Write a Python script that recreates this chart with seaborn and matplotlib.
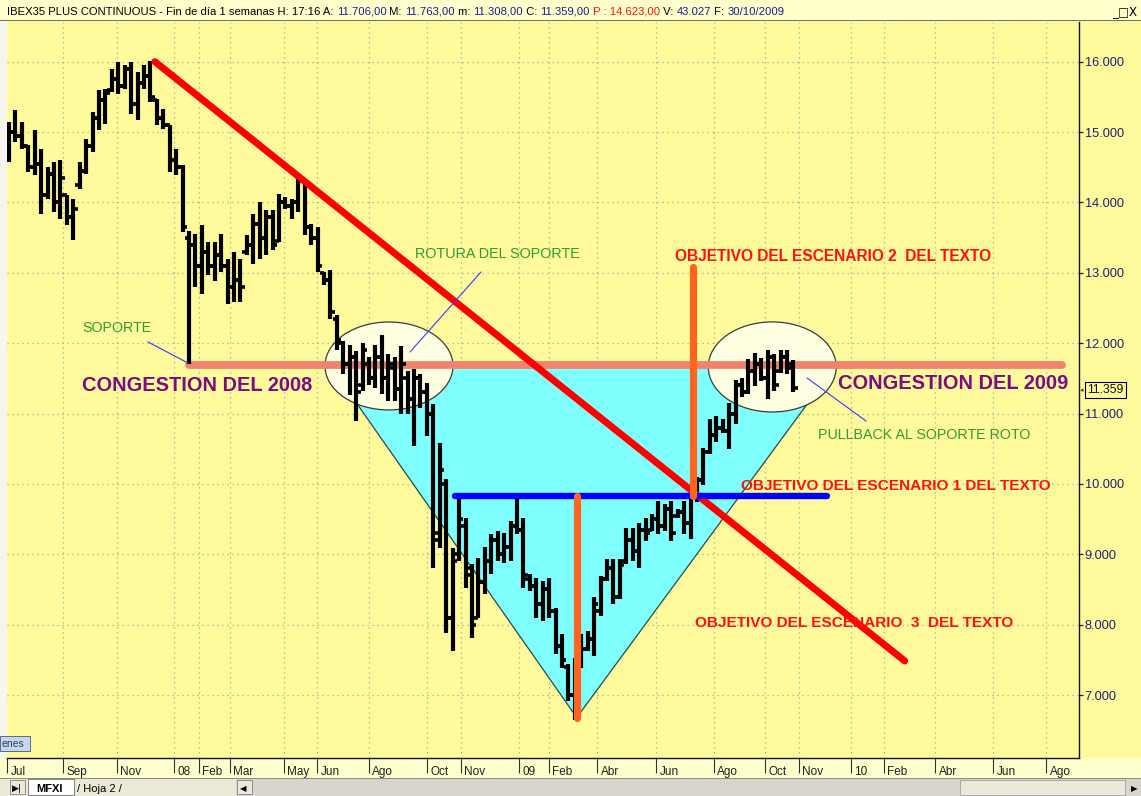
import numpy as np
import pandas as pd
import matplotlib
matplotlib.use("Agg")
import matplotlib.pyplot as plt
import matplotlib.transforms as mtransforms
from matplotlib.patches import Ellipse, Rectangle
import seaborn as sns

# ---------------- data (weekly OHLC, IBEX35 Jul-2007 .. Oct-2009) ----------------
highs = [
    15150, 15318, 15150, 14820, 15034, 14765, 14510, 14580, 14608, 14111,
    14054, 14580, 14907, 15290, 15602, 15617, 15900, 16000, 15957, 16000,
    15858, 15957, 16014, 15475, 15333, 15105, 14765, 14537, 13600, 13558,
    13685, 13444, 13444, 13558, 13203, 13302, 13189, 13543, 13842, 14012,
    13898, 13898, 14125, 14083, 14054, 14367, 14324, 13700, 13657, 13018,
    13046, 12400, 12024, 11980, 11882, 11996, 11800, 11980, 12123, 11840,
    11800, 11953, 11600, 11626, 11555, 11430, 11130, 10576, 10064, 9085,
    9850, 9510, 8857, 8943, 9100, 9284, 9326, 9300, 9468, 9800,
    9510, 8715, 8659, 8616, 8660, 8233, 7864, 7437, 7523, 7864,
    7906, 8400, 8690, 8930, 8930, 8940, 9370, 9369, 9450, 9510,
    9568, 9752, 9710, 9752, 9650, 9752, 9851, 10100, 10505, 10917,
    10960, 10917, 11145, 11480, 11500, 11768, 11854, 11783, 11910, 11840,
    11910, 11910, 11763]
lows = [
    14580, 14864, 14765, 14438, 14395, 13842, 14054, 13870, 13770, 13685,
    13472, 14197, 14410, 14722, 15034, 15120, 15574, 15546, 15617, 15262,
    15176, 15617, 15432, 15105, 15048, 14438, 14395, 13586, 11700, 12805,
    12692, 12975, 12890, 13018, 12550, 12592, 12592, 13259, 13132, 13203,
    13259, 13330, 13444, 13912, 13770, 13870, 13543, 13400, 13018, 12833,
    12350, 11900, 11555, 11270, 10888, 11314, 11400, 11356, 11271, 11172,
    11172, 10987, 10990, 10533, 11073, 10675, 8800, 9085, 7878, 7620,
    8900, 8517, 7807, 8091, 8430, 8715, 8900, 8870, 8900, 9284,
    8517, 8475, 8091, 8048, 8090, 7580, 7380, 6912, 6650, 7380,
    7620, 7550, 8120, 8620, 8290, 8360, 8857, 8900, 8800, 9184,
    9326, 9284, 9326, 9184, 9510, 9284, 9213, 9750, 9990, 10420,
    10600, 10718, 10491, 10846, 11240, 11271, 11385, 11456, 11200, 11314,
    11570, 11555, 11308]
opens = [
    14650, 15000, 14950, 14800, 14500, 14550, 14100, 14400, 14000, 14100,
    13800, 14250, 14450, 14800, 15200, 15450, 15600, 15750, 15650, 15900,
    15400, 15700, 15800, 15450, 15200, 15100, 14600, 14500, 13500, 13400,
    13100, 13300, 13100, 13250, 13100, 12800, 12900, 13300, 13400, 13700,
    13500, 13800, 13450, 14000, 13950, 14000, 14300, 13650, 13500, 13000,
    12900, 12350, 12000, 11700, 11800, 11400, 11700, 11500, 11800, 11500,
    11650, 11350, 11500, 11200, 11500, 11300, 11000, 9300, 10000, 8100,
    9000, 9400, 8700, 8100, 8600, 8900, 9200, 9000, 9100, 9400,
    9350, 8650, 8550, 8300, 8500, 8200, 7700, 7400, 7000, 7400,
    7650, 7800, 8200, 8650, 8800, 8400, 8900, 9200, 9050, 9350,
    9350, 9500, 9400, 9650, 9550, 9600, 9450, 9800, 10050, 10450,
    10700, 10800, 10750, 11000, 11400, 11300, 11600, 11700, 11500, 11800,
    11600, 11800, 11706]
closes = [
    15000, 14950, 14800, 14500, 14550, 14100, 14400, 14000, 14350, 13800,
    13900, 14450, 14800, 15200, 15450, 15550, 15750, 15650, 15900, 15400,
    15700, 15800, 15500, 15200, 15100, 14600, 14500, 13650, 13400, 13100,
    13300, 13100, 13250, 13100, 12800, 12900, 12800, 13400, 13700, 13500,
    13800, 13400, 14000, 13950, 14000, 14300, 13650, 13500, 13100, 12900,
    12450, 12050, 11700, 11800, 11300, 11900, 11500, 11800, 11500, 11700,
    11350, 11700, 11200, 11500, 11300, 11000, 9200, 10200, 8100, 8900,
    9500, 8800, 8000, 8600, 8900, 9200, 9000, 9100, 9400, 9350,
    8700, 8550, 8300, 8500, 8200, 7700, 7500, 7000, 7400, 7650,
    7800, 8300, 8650, 8800, 8400, 8850, 9200, 9050, 9350, 9300,
    9500, 9400, 9650, 9300, 9600, 9450, 9800, 10050, 10450, 10700,
    10800, 10750, 11000, 11400, 11300, 11600, 11700, 11500, 11800, 11400,
    11800, 11650, 11359]

month_labels = ["Jul", "Sep", "Nov", "08", "Feb", "Mar", "May", "Jun", "Ago", "Oct", "Nov",
                "09", "Feb", "Abr", "Jun", "Ago", "Oct", "Nov", "10", "Feb", "Abr", "Jun", "Ago"]
month_pos = [-0.3, 8.4, 16.8, 25.66, 29.55, 34.37, 42.77, 47.9, 55.99, 65.01, 70.3,
             79.32, 83.98, 91.45, 100.62, 109.64, 117.57, 122.86, 130.95, 136.08, 144.01, 153.03, 161.28]
price_ticks = [7000, 8000, 9000, 10000, 11000, 12000, 13000, 14000, 15000, 16000]
price_labels = ["7.000", "8.000", "9.000", "10.000", "11.000", "12.000", "13.000", "14.000", "15.000", "16.000"]

# drawn studies (in week / price units)
trend_x, trend_y = [22.7, 139.3], [16000, 7484]          # red bearish trendline
support_x, support_y = [28.0, 163.8], [11690, 11690]     # broken support
neck_x, neck_y = [69.4, 127.2], [9828, 9828]             # blue neckline
tgt1_x, tgt1_y = [88.3, 88.3], [9828, 6680]              # orange target 1
tgt2_x, tgt2_y = [106.4, 106.4], [13080, 9828]           # orange target 2
tri_x, tri_y = [49.9, 88.3, 128.6], [11690, 6680, 11690]  # cyan triangle
ell_cx, ell_cy = [59.1, 118.7], [11676, 11662]
ell_w, ell_h = [19.9, 19.9], [1250, 1280]
last_close = "11.359"

# ---------------- style ----------------
sns.set_theme(style="white")
plt.rcParams['font.family'] = ['Liberation Sans', 'DejaVu Sans']

W, H = 1141, 796
YEL = '#FFFA9C'
fig = plt.figure(figsize=(W / 100, H / 100), dpi=100, facecolor=YEL)
ax = fig.add_axes([7 / W, 1 - 758 / H, (1079 - 7) / W, (758 - 22) / H])
ax.set_facecolor(YEL)


def frect(px, py, w, h, **kw):
    kw.setdefault('zorder', -5)
    r = Rectangle((px / W, 1 - (py + h) / H), w / W, h / H, transform=fig.transFigure, **kw)
    fig.patches.append(r)
    return r


def ftext(px, py, s, **kw):
    return fig.text(px / W, 1 - py / H, s, **kw)


def atext(px, py, s, **kw):
    return ax.text((px - 7) / 1072, (758 - py) / 736, s, transform=ax.transAxes, **kw)


df = pd.DataFrame({'week': np.arange(len(highs)), 'open': opens, 'high': highs,
                   'low': lows, 'close': closes})

# cyan triangle + edges
ax.fill(tri_x, tri_y, color='#80FFFF', zorder=1, lw=0)
ax.plot(tri_x, tri_y, color='#2A4A4A', lw=0.9, zorder=1.5)

# ellipses
for cx, cy, ew, eh in zip(ell_cx, ell_cy, ell_w, ell_h):
    ax.add_patch(Ellipse((cx, cy), ew, eh, facecolor='#FFFFE2', edgecolor='#3A3A3A',
                         lw=0.9, zorder=2))

# support line
sns.lineplot(x=support_x, y=support_y, ax=ax, color='#F0826E', lw=5.6,
             estimator=None, sort=False, zorder=3)

# OHLC bars
x = df['week'].to_numpy()
ax.vlines(x, df['low'], df['high'], color='black', lw=3.0, zorder=5)
ax.hlines(df['open'], x - 0.68, x, color='black', lw=2.6, zorder=5)
ax.hlines(df['close'], x, x + 0.68, color='black', lw=2.6, zorder=5)

# studies
sns.lineplot(x=trend_x, y=trend_y, ax=ax, color='#FF0000', lw=5.0,
             estimator=None, sort=False, zorder=6)
sns.lineplot(x=neck_x, y=neck_y, ax=ax, color='#0000FF', lw=4.6,
             estimator=None, sort=False, zorder=6, solid_capstyle='round')
sns.lineplot(x=tgt1_x, y=tgt1_y, ax=ax, color='#FF6420', lw=5.2,
             estimator=None, sort=False, zorder=7, solid_capstyle='round')
sns.lineplot(x=tgt2_x, y=tgt2_y, ax=ax, color='#FF6420', lw=5.2,
             estimator=None, sort=False, zorder=7, solid_capstyle='round')

# axes config
ax.set_xlim(-0.3, 166.4)
ax.set_ylim(6105, 16564)
ax.set_xlabel('')
ax.set_ylabel('')
ax.yaxis.tick_right()
ax.set_yticks(price_ticks)
ax.set_yticklabels(price_labels)
ax.tick_params(axis='y', which='both', direction='out', length=3, width=0.9, color='#202020',
               pad=1, labelsize=9.2, labelcolor='#1E1E78', right=True, left=False)
ax.set_xticks(month_pos)
ax.set_xticklabels(month_labels)
ax.tick_params(axis='x', direction='out', length=11, width=0.8, color='#303030',
               pad=-5.5, labelsize=8.5, labelcolor='#202020', bottom=True)
offset = mtransforms.ScaledTranslation(2.5 / 72, 0, fig.dpi_scale_trans)
for lab in ax.get_xticklabels():
    lab.set_horizontalalignment('left')
    lab.set_transform(lab.get_transform() + offset)

for v in price_ticks:
    ax.axhline(v, color='#A8A8A0', lw=0.9, ls=(0, (1, 3)), zorder=0.5)
for p in month_pos[1:]:
    ax.axvline(p, color='#A8A8A0', lw=0.9, ls=(0, (1, 3)), zorder=0.5)

for s in ['top', 'left']:
    ax.spines[s].set_visible(False)
ax.spines['right'].set_color('#101010')
ax.spines['right'].set_linewidth(1.0)
ax.spines['bottom'].set_color('#101010')
ax.spines['bottom'].set_linewidth(1.0)

# annotations
GREEN = '#2E9E2E'
PURPLE = '#7E0A82'
RED = '#FF1010'
atext(82, 332, "SOPORTE", color=GREEN, fontsize=10.3, va='baseline', zorder=8)
atext(415, 258, "ROTURA DEL SOPORTE", color=GREEN, fontsize=10.4, va='baseline', zorder=8)
atext(818, 439, "PULLBACK AL SOPORTE ROTO", color=GREEN, fontsize=10.3, va='baseline', zorder=8)
atext(82, 391, "CONGESTION DEL 2008", color=PURPLE, fontsize=14.4, fontweight='bold', va='baseline', zorder=8)
atext(838, 389, "CONGESTION DEL 2009", color=PURPLE, fontsize=14.4, fontweight='bold', va='baseline', zorder=8)
atext(675, 261, "OBJETIVO DEL ESCENARIO 2  DEL TEXTO", color=RED, fontsize=11.2, fontweight='bold', va='baseline', zorder=8)
atext(741, 490, "OBJETIVO DEL ESCENARIO 1 DEL TEXTO", color=RED, fontsize=11.1, fontweight='bold', va='baseline', zorder=8)
atext(695, 627, "OBJETIVO DEL ESCENARIO  3  DEL TEXTO", color=RED, fontsize=11.1, fontweight='bold', va='baseline', zorder=8)

# thin pointer lines (axes fraction)
def aline(p0, p1):
    ax.plot([(p0[0] - 7) / 1072, (p1[0] - 7) / 1072], [(758 - p0[1]) / 736, (758 - p1[1]) / 736],
            transform=ax.transAxes, color='#3A3AFF', lw=0.8, zorder=8)

aline((148, 342), (188, 363))
aline((481, 272), (410, 352))
aline((807, 378), (866, 421))

# ---------------- window chrome ----------------
frect(0, 0, W, 20, facecolor='#FFFFCC', edgecolor='none')
frect(0, 20, W, 1.2, facecolor='#707070', edgecolor='none')
frect(0, 21, 7, 737, facecolor='#F6F6EE', edgecolor='none')
frect(0, 758, W, 20, facecolor='#FFFFCE', edgecolor='none')
frect(0, 778, W, 18, facecolor='#D8D5CC', edgecolor='none')
frect(0, 778, 236, 18, facecolor='#ECE9D8', edgecolor='none')
frect(0, 777.5, W, 1, facecolor='#8A8A80', edgecolor='none')
frect(28, 779, 46, 16, facecolor='white', edgecolor='#707070', lw=0.6)
frect(10, 780, 15, 14, facecolor='#ECE9D8', edgecolor='#808080', lw=0.6)
frect(237, 780, 15, 14, facecolor='#ECE9D8', edgecolor='#808080', lw=0.6)
frect(960, 780, 165, 15, facecolor='#ECE9D8', edgecolor='#A0A0A0', lw=0.6)
frect(0, 736, 30, 15, facecolor='#C9D6EA', edgecolor='#4F6E9E', lw=0.7, zorder=9)
ftext(2, 747, "enes", fontsize=7.5, color='#2A3F66', va='baseline', zorder=10)
ftext(12, 791, "▶|", fontsize=6.5, color='black', va='baseline', family=['DejaVu Sans'])
ftext(36, 792, "MFXI", fontsize=8, fontweight='bold', color='black', va='baseline')
ftext(77, 792, "/ Hoja 2 /", fontsize=8, color='black', va='baseline')
ftext(240, 791, "◀", fontsize=6, color='black', va='baseline', family=['DejaVu Sans'])
ftext(1131, 791, "▶", fontsize=6, color='black', va='baseline', family=['DejaVu Sans'])
ftext(1112, 15, "_□X", fontsize=8.5, color='black', va='baseline', family=['DejaVu Sans'])

# last-price box on the price axis
ftext(1087, 393, last_close, fontsize=8.8, color='#111111', va='baseline', zorder=10,
      bbox=dict(boxstyle='square,pad=0.18', facecolor=YEL, edgecolor='black', lw=0.8))
ftext(1080, 392, "◂", fontsize=5, color='#404040', va='baseline', family=['DejaVu Sans'])

# title bar text with coloured segments
NAVY = '#1E1E8C'
segments = [("IBEX35 PLUS CONTINUOUS - Fin de día 1 semanas H: 17:16 A: ", 'black'),
            ("11.706,00", NAVY), (" M: ", 'black'), ("11.763,00", NAVY), (" m: ", 'black'),
            ("11.308,00", NAVY), (" C: ", 'black'), ("11.359,00", NAVY),
            (" P : 14.623,00", '#FF1010'), (" V: ", 'black'), ("43.027", NAVY),
            (" F: ", 'black'), ("30/10/2009", NAVY)]
renderer = fig.canvas.get_renderer()


def draw_segments(fs, draw=True):
    xpos = 7.0
    arts = []
    for s, c in segments:
        t = ftext(xpos, 15, s, fontsize=fs, color=c, va='baseline')
        bb = t.get_window_extent(renderer)
        xpos += bb.width
        arts.append(t)
    if not draw:
        for t in arts:
            t.remove()
    return xpos - 7.0

total = draw_segments(8, draw=False)
draw_segments(8 * 776 / total)

fig.savefig("out.png", dpi=100, facecolor=YEL)
